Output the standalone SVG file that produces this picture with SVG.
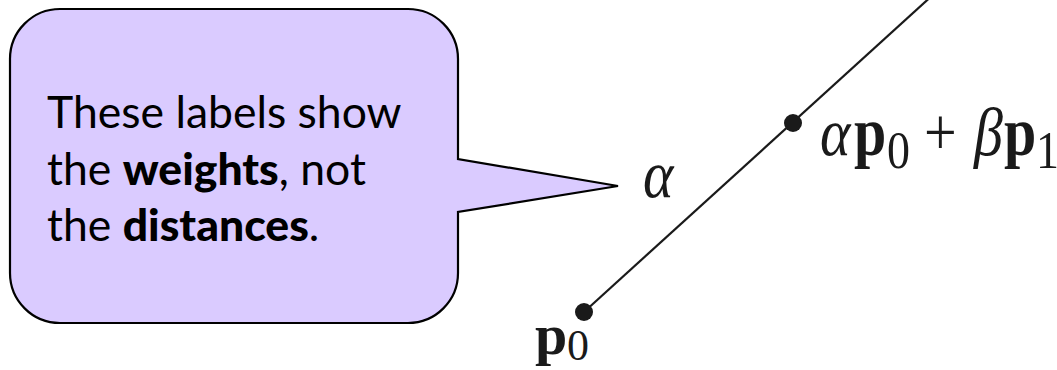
<svg xmlns="http://www.w3.org/2000/svg" width="1057" height="370" viewBox="0 0 1057 370">
<style>
.callout{fill:#dacbff;stroke:#000;stroke-width:2.2;stroke-linejoin:miter}
.note{font-family:Lato,"Open Sans","Liberation Sans",sans-serif;font-size:44.5px;fill:#000}
.b{font-weight:900}
.math{font-family:"Liberation Serif","Times New Roman",serif;font-size:58px;fill:#1a1a1a}
.it{font-style:italic}
.bf{font-weight:bold}
.sub{font-size:46px}
.dot{fill:#1a1a1a}
.seg{stroke:#1a1a1a;stroke-width:2.2;fill:none}
</style>
<g id="connectors">
<line class="seg" x1="584" y1="312" x2="935" y2="-7"/>
</g>
<g id="callout">
<path class="callout" d="M60,9 H408 A50,50 0 0 1 458,59 V159 L618,186 L458,212 V273 A50,50 0 0 1 408,323 H60 A50,50 0 0 1 10,273 V59 A50,50 0 0 1 60,9 Z"/>
<text class="note" x="47" y="128">These labels show</text>
<text class="note" x="47" y="185">the <tspan class="b">weights</tspan>, not</text>
<text class="note" x="47" y="241">the <tspan class="b">distances</tspan>.</text>
</g>
<g id="label-alpha">
<text class="math it" transform="translate(643,197) scale(1,1.15)" x="0" y="0">α</text>
</g>
<g id="point-p0">
<circle class="dot" cx="584" cy="312" r="9"/>
<text class="math" x="535" y="354"><tspan class="bf">p</tspan><tspan class="sub" x="567" y="360" style="font-size:44px">0</tspan></text>
</g>
<g id="point-mid">
<circle class="dot" cx="793" cy="123" r="9"/>
<text class="math" transform="translate(820,155) scale(1,1.15)" x="0" y="0"><tspan class="it">α</tspan><tspan class="bf" x="34">p</tspan><tspan class="sub" x="67" y="11">0</tspan><tspan x="104" y="0">+</tspan><tspan class="it" x="154">β</tspan><tspan class="bf" x="184">p</tspan><tspan class="sub" x="216" y="11">1</tspan></text>
</g>
</svg>
